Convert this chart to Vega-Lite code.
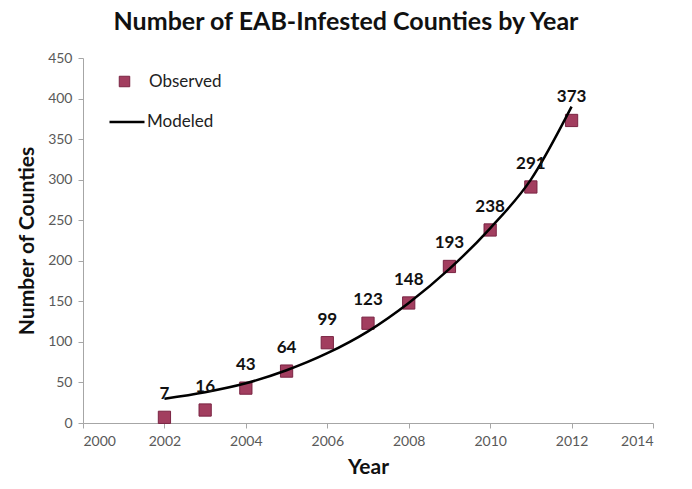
{
  "$schema": "https://vega.github.io/schema/vega-lite/v6.json",
  "width": 570,
  "height": 365,
  "autosize": "none",
  "padding": {"left": 83, "top": 58, "right": 39, "bottom": 66},
  "background": "white",
  "title": {
    "text": "Number of EAB-Infested Counties by Year",
    "font": "Lato",
    "fontSize": 25,
    "fontWeight": "bold",
    "color": "#111111",
    "anchor": "middle",
    "dx": -22,
    "offset": 16
  },
  "config": {
    "view": {"stroke": null},
    "font": "Lato",
    "axis": {
      "grid": false,
      "domainColor": "#a6a6a6",
      "tickColor": "#a6a6a6",
      "labelColor": "#595959",
      "labelFont": "Lato",
      "labelFontSize": 14,
      "titleFont": "Lato",
      "titleFontSize": 21,
      "titleFontWeight": "bold",
      "titleColor": "#111111",
      "tickSize": 5
    },
    "legend": {
      "labelFont": "Lato",
      "labelFontSize": 17,
      "labelColor": "#222222",
      "title": null
    }
  },
  "datasets": {
    "observed": [
      {"year": 2002, "count": 7, "series": "Observed"},
      {"year": 2003, "count": 16, "series": "Observed"},
      {"year": 2004, "count": 43, "series": "Observed"},
      {"year": 2005, "count": 64, "series": "Observed"},
      {"year": 2006, "count": 99, "series": "Observed"},
      {"year": 2007, "count": 123, "series": "Observed"},
      {"year": 2008, "count": 148, "series": "Observed"},
      {"year": 2009, "count": 193, "series": "Observed"},
      {"year": 2010, "count": 238, "series": "Observed"},
      {"year": 2011, "count": 291, "series": "Observed"},
      {"year": 2012, "count": 373, "series": "Observed"}
    ],
    "modeled": [
      {"year": 2002, "count": 30, "series": "Modeled"},
      {"year": 2003, "count": 38, "series": "Modeled"},
      {"year": 2004, "count": 49, "series": "Modeled"},
      {"year": 2005, "count": 65, "series": "Modeled"},
      {"year": 2006, "count": 86, "series": "Modeled"},
      {"year": 2007, "count": 113, "series": "Modeled"},
      {"year": 2008, "count": 148, "series": "Modeled"},
      {"year": 2009, "count": 190, "series": "Modeled"},
      {"year": 2010, "count": 240, "series": "Modeled"},
      {"year": 2011, "count": 300, "series": "Modeled"},
      {"year": 2012, "count": 390, "series": "Modeled"}
    ]
  },
  "layer": [
    {
      "data": {"name": "observed"},
      "mark": {"type": "point", "shape": "square", "filled": true, "size": 150, "stroke": "#7a2443", "strokeWidth": 1, "opacity": 1},
      "encoding": {
        "x": {
          "field": "year", "type": "quantitative",
          "scale": {"domain": [2000, 2014], "nice": false, "zero": false},
          "axis": {"values": [2000, 2002, 2004, 2006, 2008, 2010, 2012, 2014], "format": "d", "title": "Year", "titlePadding": 8, "labelPadding": 6}
        },
        "y": {
          "field": "count", "type": "quantitative",
          "scale": {"domain": [0, 450], "nice": false},
          "axis": {"values": [0, 50, 100, 150, 200, 250, 300, 350, 400, 450], "title": "Number of Counties", "titlePadding": 10, "labelPadding": 6}
        },
        "fill": {
          "field": "series", "type": "nominal",
          "scale": {"domain": ["Observed"], "range": ["#a23e5f"]},
          "legend": {"orient": "none", "legendX": 33, "legendY": 15, "symbolType": "square", "symbolSize": 110, "symbolStrokeColor": "#7a2443", "symbolStrokeWidth": 1, "labelOffset": 16}
        }
      }
    },
    {
      "data": {"name": "modeled"},
      "mark": {"type": "line", "interpolate": "monotone", "strokeWidth": 2.5},
      "encoding": {
        "x": {"field": "year", "type": "quantitative"},
        "y": {"field": "count", "type": "quantitative"},
        "stroke": {
          "field": "series", "type": "nominal",
          "scale": {"domain": ["Modeled"], "range": ["#000000"]},
          "legend": {"orient": "none", "legendX": 25, "legendY": 45, "symbolType": "stroke", "symbolSize": 1225, "symbolStrokeWidth": 2.5, "labelOffset": 1}
        }
      }
    },
    {
      "data": {"name": "observed"},
      "mark": {"type": "text", "baseline": "bottom", "dy": -14, "fontSize": 17, "fontWeight": "bold", "color": "#111111", "font": "Lato"},
      "encoding": {
        "x": {"field": "year", "type": "quantitative"},
        "y": {"field": "count", "type": "quantitative"},
        "text": {"field": "count", "type": "quantitative"}
      }
    }
  ],
  "resolve": {"scale": {"fill": "independent", "stroke": "independent"}}
}
